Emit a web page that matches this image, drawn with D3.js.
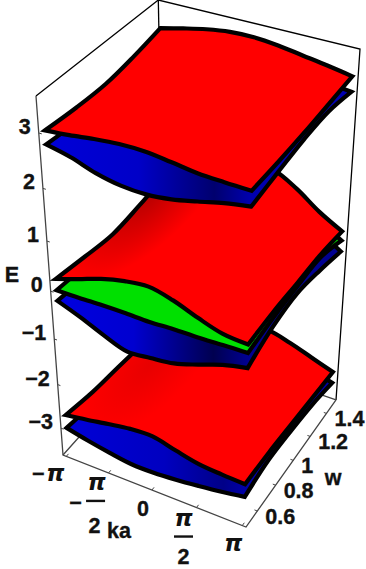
<!DOCTYPE html>
<html>
<head>
<meta charset="utf-8"/>
<script src="https://cdnjs.cloudflare.com/ajax/libs/d3/7.8.5/d3.min.js"></script>
<style>
html, body { margin: 0; padding: 0; background: #fff; }
svg { display: block; }
text { font-family: "Liberation Sans", sans-serif; font-weight: bold; fill: #111; stroke: #111; stroke-width: 0.35px; }
.pi { font-family: "DejaVu Sans", sans-serif; font-style: italic; stroke: none; }
</style>
</head>
<body>
<script>
var PI = Math.PI;

// sample positions along the two horizontal axes
var kaVals = [-PI, -3*PI/4, -PI/2, -PI/4, 0, PI/4, PI/2, 3*PI/4, PI];
var wVals = [0.5, 0.75, 1, 1.25, 1.5];

// E: front (w=.5) and back (w=1.5) along ka,
// left (ka=-pi) and right (ka=pi) along w
var red1Front = [3.03, 3.07, 3.13, 3.17, 3.17, 3.12, 3.06, 3.04, 3.03];
var red1Back = [3.17, 3.27, 3.36, 3.42, 3.43, 3.39, 3.32, 3.25, 3.17];
var red1Left = [3.03, 2.98, 2.97, 3.05, 3.17];
var red1Right = [3.03, 3.04, 3.07, 3.12, 3.17];

var blue1Front = [2.78, 2.68, 2.53, 2.44, 2.42, 2.47, 2.57, 2.68, 2.76];
var blue1Back = [2.87, 2.98, 3.06, 3.13, 3.14, 3.10, 3.04, 2.95, 2.89];
var blue1Left = [2.78, 2.72, 2.69, 2.77, 2.87];
var blue1Right = [2.76, 2.86, 2.95, 2.98, 2.89];

var red2Front = [0.23, 0.38, 0.54, 0.65, 0.70, 0.59, 0.41, 0.26, 0.22];
var red2Back = [0.19, 0.48, 0.73, 0.88, 1.02, 1.01, 0.77, 0.44, 0.18];
var red2Left = [0.23, 0.12, 0.03, 0.09, 0.19];
var red2Right = [0.22, 0.26, 0.25, 0.25, 0.18];

var greenFront = [0.00, 0.00, 0.01, 0.01, 0.00, 0.02, 0.02, 0.04, 0.05];
var greenBack = [-0.03, 0.27, 0.52, 0.67, 0.82, 0.81, 0.59, 0.27, -0.01];
var greenLeft = [0.00, -0.07, -0.15, -0.09, -0.03];
var greenRight = [0.05, 0.14, 0.18, 0.19, -0.01];

var blue2Front = [-0.22, -0.40, -0.61, -0.78, -0.74, -0.68, -0.53, -0.36, -0.25];
var blue2Back = [-0.24, 0.06, 0.31, 0.47, 0.61, 0.60, 0.39, 0.06, -0.24];
var blue2Left = [-0.22, -0.29, -0.37, -0.32, -0.24];
var blue2Right = [-0.25, -0.04, 0.03, -0.08, -0.24];

var red3Front = [-2.72, -2.64, -2.55, -2.47, -2.45, -2.57, -2.68, -2.72, -2.74];
var red3Back = [-3.10, -2.90, -2.70, -2.55, -2.51, -2.47, -2.60, -2.77, -2.94];
var red3Left = [-2.72, -2.86, -2.93, -3.01, -3.10];
var red3Right = [-2.74, -2.76, -2.82, -2.88, -2.94];

var blue3Front = [-3.02, -3.13, -3.22, -3.29, -3.29, -3.25, -3.19, -3.12, -3.03];
var blue3Back = [-3.39, -3.19, -2.99, -2.84, -2.80, -2.75, -2.87, -3.05, -3.20];
var blue3Left = [-3.02, -3.13, -3.21, -3.29, -3.39];
var blue3Right = [-3.03, -2.93, -2.97, -3.05, -3.20];

// drawn bottom to top, the view is from above
var sheets = [
  {f: blue3Front, b: blue3Back, l: blue3Left, r: blue3Right, fill: "url(#blue3)"},
  {f: red3Front, b: red3Back, l: red3Left, r: red3Right, fill: "url(#shade3)"},
  {f: blue2Front, b: blue2Back, l: blue2Left, r: blue2Right, fill: "url(#blue2)"},
  {f: greenFront, b: greenBack, l: greenLeft, r: greenRight, fill: "#00e000"},
  {f: red2Front, b: red2Back, l: red2Left, r: red2Right, fill: "url(#shade2)"},
  {f: blue1Front, b: blue1Back, l: blue1Left, r: blue1Right, fill: "url(#blue1)"},
  {f: red1Front, b: red1Back, l: red1Left, r: red1Right, fill: "#ff0000"}
];

var eTicks = [-3, -2, -1, 0, 1, 2, 3];
var kaTicks = [-PI, -PI/2, 0, PI/2, PI];
var wTicks = [0.6, 0.8, 1, 1.2, 1.4];

var width = 366, height = 569;

// plot range has 2% padding inside the box
var pad = 0.0192;
var kaScale = d3.scaleLinear().domain([-PI, PI]).range([pad, 1 - pad]);
var wScale = d3.scaleLinear().domain([0.5, 1.5]).range([pad, 1 - pad]);
var eScale = d3.scaleLinear().domain([-3.5, 3.5]).range([pad, 1 - pad]);

// perspective camera, unit box -> pixels
function cam(u, v, t) {
  var h = 1 - 0.0545*u + 0.0988*v - 0.1607*t;
  return [(63 + 169.6*u + 118.3*v - 32.8*t)/h, (455 + 43.3*u - 80.6*v - 374.4*t)/h];
}
function project(ka, w, e) { return cam(kaScale(ka), wScale(w), eScale(e)); }

var svg = d3.select("body").append("svg").attr("width", width).attr("height", height);
var defs = svg.append("defs");

function blueGrad(id, front, stops) {
  var x1 = project(-PI, 0.5, front[0])[0], x2 = project(PI, 0.5, front[8])[0];
  defs.append("linearGradient").attr("id", id).attr("gradientUnits", "userSpaceOnUse")
      .attr("x1", x1).attr("x2", x2).attr("y1", 0).attr("y2", 0)
    .selectAll("stop").data(stops).enter().append("stop")
      .attr("offset", function(d) { return d[0]; })
      .attr("stop-color", function(d) { return d[1]; });
}
blueGrad("blue1", blue1Front, [[0, "#0000d8"], [0.45, "#0000c8"], [0.82, "#00006e"], [1, "#0000b0"]]);
blueGrad("blue2", blue2Front, [[0, "#0000e0"], [0.4, "#0000d0"], [0.82, "#000050"], [1, "#000090"]]);
blueGrad("blue3", blue3Front, [[0, "#0000d8"], [0.55, "#0000c0"], [0.88, "#000088"], [1, "#0000a8"]]);

function redGrad(id, tf, stops) {
  defs.append("radialGradient").attr("id", id).attr("gradientUnits", "userSpaceOnUse")
      .attr("cx", 0).attr("cy", 0).attr("r", 1).attr("gradientTransform", tf)
    .selectAll("stop").data(stops).enter().append("stop")
      .attr("offset", function(d) { return d[0]; })
      .attr("stop-color", function(d) { return d[1]; });
}
redGrad("shade2", "translate(150,195) rotate(-45) scale(110,45)", [[0, "#b80000"], [0.5, "#dc0000"], [1, "#ff0000"]]);
redGrad("shade3", "translate(150,365) rotate(-45) scale(90,40)", [[0, "#e80000"], [1, "#ff0000"]]);

// box, thin black on the top and the back, grey along the axes
var line = d3.line();
var boxBlack = [
  [[0, 0, 1], [0, 1, 1], [1, 1, 1], [1, 1, 0]],
  [[0, 1, 1], [0, 1, 0]]
];
var boxGrey = [
  [[0, 0, 1], [0, 0, 0], [1, 0, 0], [1, 1, 0]],
  [[0, 0, 0], [0, 1, 0], [1, 1, 0]]
];
function drawBox(list, color, w) {
  svg.selectAll(null).data(list).enter().append("path")
    .attr("d", function(d) { return line(d.map(function(c) { return cam(c[0], c[1], c[2]); })); })
    .attr("fill", "none").attr("stroke", color).attr("stroke-width", w);
}
drawBox(boxBlack, "#000", 1.3);
drawBox(boxGrey, "#444", 1.3);

// ticks
function tick(a, b) {
  svg.append("path").attr("d", line([a, b])).attr("stroke", "#444").attr("fill", "none").attr("stroke-width", 1);
}
eTicks.forEach(function(e) {
  tick(cam(0, 0, eScale(e)), cam(0.015, 0, eScale(e)));
});
kaTicks.forEach(function(k) {
  tick(cam(kaScale(k), 0, 0), cam(kaScale(k), 0.02, 0));
});
wTicks.forEach(function(w) {
  tick(cam(1, wScale(w), 0), cam(0.985, wScale(w), 0));
});

// sheets
var curve = d3.line().curve(d3.curveCatmullRom.alpha(0.5));
function edgePath(pts, first) {
  var d = curve(pts);
  return first ? d : "L" + d.slice(1);
}
sheets.forEach(function(s) {
  var front = kaVals.map(function(k, i) { return project(k, 0.5, s.f[i]); });
  var back = kaVals.map(function(k, i) { return project(k, 1.5, s.b[i]); }).reverse();
  // the side edges take their end points from the front and back edges
  var right = wVals.map(function(w, i) {
    return project(PI, w, i == 0 ? s.f[8] : i == 4 ? s.b[8] : s.r[i]);
  });
  var left = wVals.map(function(w, i) {
    return project(-PI, w, i == 0 ? s.f[0] : i == 4 ? s.b[0] : s.l[i]);
  }).reverse();
  svg.append("path")
    .attr("d", edgePath(front, true) + edgePath(right) + edgePath(back) + edgePath(left) + "Z")
    .attr("fill", s.fill)
    .attr("stroke", "#000")
    .attr("stroke-width", 4.2)
    .attr("stroke-linejoin", "miter")
    .attr("stroke-miterlimit", 6);
});

// labels
var fs = 21.5;
function label(x, y, str, anchor, cls, size) {
  return svg.append("text").attr("x", x).attr("y", y).attr("text-anchor", anchor || "middle")
    .attr("font-size", size || fs).attr("class", cls || null).text(str);
}
eTicks.forEach(function(e) {
  var p = cam(0, 0, eScale(e));
  label(p[0] - 8, p[1] + 1, e < 0 ? "\u2212" + (-e) : "" + e, "end");
});
label(12, 282, "E");
label(107, 538, "ka", "start");
label(333, 485, "w");

wTicks.forEach(function(w) {
  var p = cam(1, wScale(w), 0);
  label(p[0] + 8, p[1] + 13, "" + w, "start");
});

// ka labels: -pi, -pi/2, 0, pi/2, pi
var piSize = 23;
function bar(x, y) {
  svg.append("line").attr("x1", x - 9.5).attr("x2", x + 9.5).attr("y1", y).attr("y2", y)
    .attr("stroke", "#111").attr("stroke-width", 2.4);
}
function kaPos(k) { return cam(kaScale(k), 0, 0); }
var pPi = kaPos(-PI), pHalf = kaPos(-PI/2), pZero = kaPos(0), qHalf = kaPos(PI/2), qPi = kaPos(PI);

label(pPi[0] - 28, pPi[1] + 25, "\u2212");
label(pPi[0] - 11, pPi[1] + 25, "\u03c0", "middle", "pi", piSize);

label(pHalf[0] - 33, pHalf[1] + 37, "\u2212");
label(pHalf[0] - 12, pHalf[1] + 17, "\u03c0", "middle", "pi", piSize);
bar(pHalf[0] - 13, pHalf[1] + 28);
label(pHalf[0] - 14, pHalf[1] + 60, "2");

label(pZero[0] - 9, pZero[1] + 26, "0");

label(qHalf[0] - 13, qHalf[1] + 18, "\u03c0", "middle", "pi", piSize);
bar(qHalf[0] - 13, qHalf[1] + 29);
label(qHalf[0] - 13, qHalf[1] + 56, "2");

label(qPi[0] - 9, qPi[1] + 25, "\u03c0", "middle", "pi", piSize);
</script>
</body>
</html>
